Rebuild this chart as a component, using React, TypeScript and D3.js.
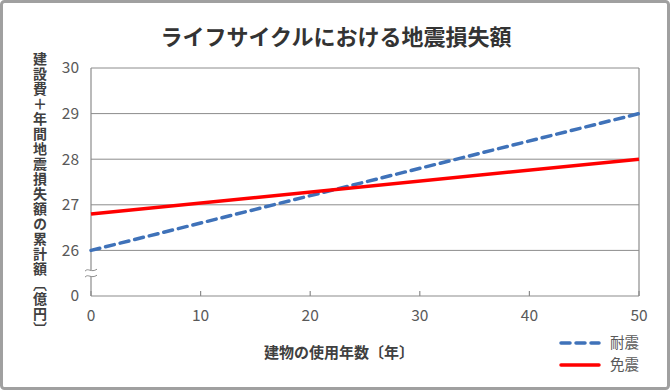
import { useRef, useEffect } from "react";
import * as d3 from "d3";

// years of use
const years = [0, 50];
// cumulative cost (億円)
const taishin = [26.0, 29.0];
const menshin = [26.8, 28.0];
// y-axis: the bottom tick stands for 0 (axis break below 26)
const yTicks = [25, 26, 27, 28, 29, 30];
const yTickLabels = ["0", "26", "27", "28", "29", "30"];
const xTicks = [0, 10, 20, 30, 40, 50];

const series = [
  { name: "耐震", values: taishin, color: "#3f72b9", dash: "9 6" },
  { name: "免震", values: menshin, color: "#ff0000", dash: null },
];

const FONT = "'Noto Sans CJK JP', 'Noto Sans', sans-serif";

export default function App() {
  const svgRef = useRef<SVGSVGElement | null>(null);

  useEffect(() => {
    if (!svgRef.current) return;
    const width = 670;
    const height = 390;
    const m = { left: 91, right: 31, top: 68, bottom: 94 };

    const svg = d3.select(svgRef.current);
    svg.selectAll("*").remove();
    svg.attr("width", width).attr("height", height).attr("viewBox", [0, 0, width, height]);

    svg
      .append("rect")
      .attr("x", 1.5)
      .attr("y", 1.5)
      .attr("width", width - 3)
      .attr("height", height - 3)
      .attr("rx", 3)
      .attr("fill", "#fff")
      .attr("stroke", "#a0a0a0")
      .attr("stroke-width", 3);

    const x = d3.scaleLinear().domain([0, 50]).range([m.left, width - m.right]);
    const y = d3.scaleLinear().domain([25, 30]).range([height - m.bottom, m.top]);

    // horizontal gridlines
    svg
      .append("g")
      .selectAll("line")
      .data(yTicks.slice(1))
      .join("line")
      .attr("x1", x(0))
      .attr("x2", x(50))
      .attr("y1", (d) => y(d))
      .attr("y2", (d) => y(d))
      .attr("stroke", "#8c8c8c")
      .attr("stroke-width", 1);

    // frame: left, right, bottom
    const frame = svg.append("g").attr("stroke", "#8c8c8c").attr("stroke-width", 1.2);
    frame.append("line").attr("x1", x(0)).attr("x2", x(0)).attr("y1", y(30)).attr("y2", y(25));
    frame.append("line").attr("x1", x(50)).attr("x2", x(50)).attr("y1", y(30)).attr("y2", y(25));
    frame.append("line").attr("x1", x(0)).attr("x2", x(50)).attr("y1", y(25)).attr("y2", y(25));

    // x tick marks (pointing inward)
    svg
      .append("g")
      .selectAll("line")
      .data(xTicks)
      .join("line")
      .attr("x1", (d) => x(d))
      .attr("x2", (d) => x(d))
      .attr("y1", y(25))
      .attr("y2", y(25) - 5)
      .attr("stroke", "#8c8c8c")
      .attr("stroke-width", 1.2);

    // axis break mark
    const by = (y(25) + y(26)) / 2;
    svg
      .append("rect")
      .attr("x", x(0) - 6)
      .attr("y", by - 3)
      .attr("width", 12)
      .attr("height", 6)
      .attr("fill", "#fff");
    [-3, 3].forEach((o) => {
      svg
        .append("path")
        .attr(
          "d",
          `M${x(0) - 6},${by + o + 1} C${x(0) - 3},${by + o - 3} ${x(0) + 0},${by + o + 3} ${x(0) + 6},${by + o - 1}`
        )
        .attr("fill", "none")
        .attr("stroke", "#8c8c8c")
        .attr("stroke-width", 1);
    });

    // tick labels
    svg
      .append("g")
      .selectAll("text")
      .data(yTicks)
      .join("text")
      .attr("x", x(0) - 12)
      .attr("y", (d) => y(d))
      .attr("dy", "0.35em")
      .attr("text-anchor", "end")
      .attr("font-family", FONT)
      .attr("font-size", 15.5)
      .attr("fill", "#595959")
      .text((d, i) => yTickLabels[i]);

    svg
      .append("g")
      .selectAll("text")
      .data(xTicks)
      .join("text")
      .attr("x", (d) => x(d))
      .attr("y", y(25) + 25)
      .attr("text-anchor", "middle")
      .attr("font-family", FONT)
      .attr("font-size", 15.5)
      .attr("fill", "#595959")
      .text((d) => d);

    // series lines
    const line = d3
      .line<number>()
      .x((d, i) => x(years[i]))
      .y((d) => y(d));

    series.forEach((s) => {
      svg
        .append("path")
        .datum(s.values)
        .attr("d", line)
        .attr("fill", "none")
        .attr("stroke", s.color)
        .attr("stroke-width", 3.5)
        .attr("stroke-dasharray", s.dash)
        .attr("stroke-linecap", s.dash ? "round" : "butt");
    });

    // title
    svg
      .append("text")
      .attr("x", 336)
      .attr("y", 45)
      .attr("text-anchor", "middle")
      .attr("font-family", FONT)
      .attr("font-size", 22)
      .attr("font-weight", "bold")
      .attr("fill", "#333")
      .text("ライフサイクルにおける地震損失額");

    // x-axis title
    svg
      .append("text")
      .attr("x", 339)
      .attr("y", 358)
      .attr("text-anchor", "middle")
      .attr("font-family", FONT)
      .attr("font-size", 15)
      .attr("font-weight", "bold")
      .attr("fill", "#404040")
      .text("建物の使用年数〔年〕");

    // y-axis title (vertical writing)
    svg
      .append("text")
      .attr("x", 40)
      .attr("y", 52)
      .attr("writing-mode", "vertical-rl")
      .attr("font-family", FONT)
      .attr("font-size", 14)
      .attr("font-weight", "bold")
      .attr("letter-spacing", 1)
      .attr("fill", "#404040")
      .text("建設費＋年間地震損失額の累計額〔億円〕");

    // legend
    const lg = svg.append("g");
    series.forEach((s, i) => {
      const ly = 343 + i * 22;
      lg.append("line")
        .attr("x1", 561)
        .attr("x2", 599)
        .attr("y1", ly)
        .attr("y2", ly)
        .attr("stroke", s.color)
        .attr("stroke-width", 3.5)
        .attr("stroke-dasharray", s.dash)
        .attr("stroke-linecap", "round");
      lg.append("text")
        .attr("x", 610)
        .attr("y", ly)
        .attr("dy", "0.35em")
        .attr("font-family", FONT)
        .attr("font-size", 14.5)
        .attr("fill", "#595959")
        .text(s.name);
    });
  }, []);

  return <svg ref={svgRef} style={{ position: "absolute", left: 0, top: 0 }}></svg>;
}
